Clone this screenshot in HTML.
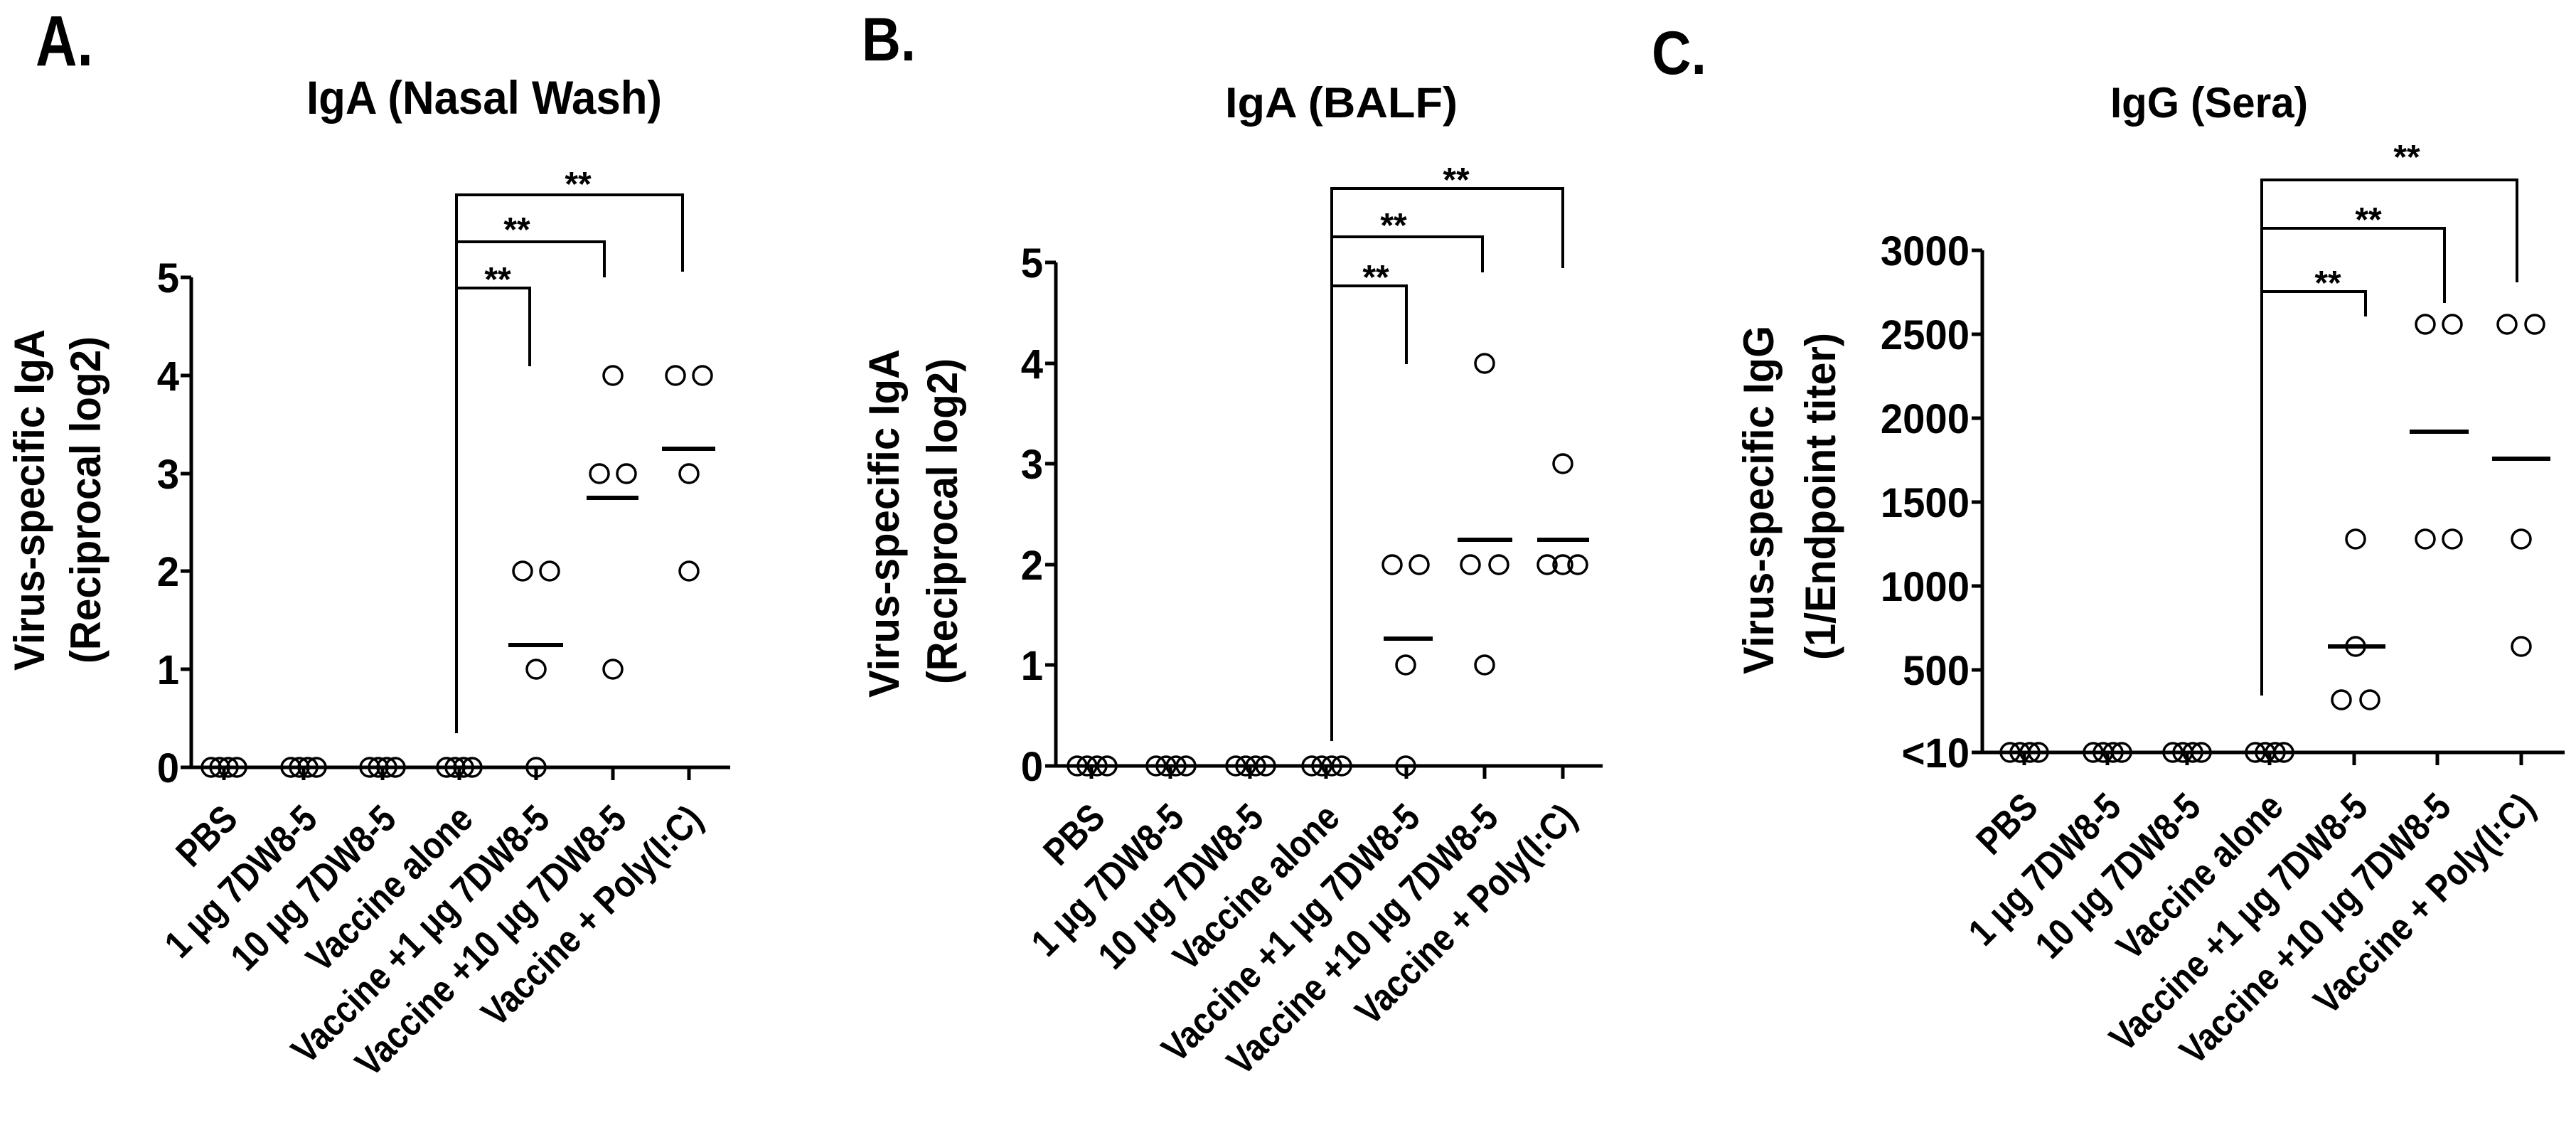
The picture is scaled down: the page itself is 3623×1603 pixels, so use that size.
<!DOCTYPE html>
<html><head><meta charset="utf-8"><style>
html,body{margin:0;padding:0;background:#fff;}
svg{display:block;}
text{font-family:"Liberation Sans",Arial,sans-serif;font-weight:bold;fill:#000;}
.xl{font-size:54px;}
.tk{font-size:58px;}
.st{font-size:48px;font-weight:normal;}
</style></head><body>
<svg width="3623" height="1603" viewBox="0 0 3623 1603" xmlns="http://www.w3.org/2000/svg">
<g stroke="#000" fill="none" stroke-linecap="butt">

<!-- ===== Panel A ===== -->
<path d="M269 390 V1079 H1027" stroke-width="5"/>
<path d="M254 390H269M254 528H269M254 666H269M254 803H269M254 941H269M254 1079H269" stroke-width="5"/>
<path d="M315 1079v18M427 1079v18M538 1079v18M646 1079v18M754 1079v18M862 1079v18M969 1079v18" stroke-width="5"/>
<path d="M642 1031V405H745V515M642 405V340H850V390M642 340V274H960V382" stroke-width="4"/>
<g stroke-width="3.5">
<circle cx="297" cy="1079" r="13"/><circle cx="309" cy="1079" r="13"/><circle cx="321" cy="1079" r="13"/><circle cx="333" cy="1079" r="13"/>
<circle cx="409" cy="1079" r="13"/><circle cx="421" cy="1079" r="13"/><circle cx="433" cy="1079" r="13"/><circle cx="445" cy="1079" r="13"/>
<circle cx="520" cy="1079" r="13"/><circle cx="532" cy="1079" r="13"/><circle cx="544" cy="1079" r="13"/><circle cx="556" cy="1079" r="13"/>
<circle cx="628" cy="1079" r="13"/><circle cx="640" cy="1079" r="13"/><circle cx="652" cy="1079" r="13"/><circle cx="664" cy="1079" r="13"/>
<circle cx="735" cy="803" r="13"/><circle cx="773" cy="803" r="13"/><circle cx="754" cy="941" r="13"/><circle cx="754" cy="1079" r="13"/>
<circle cx="862" cy="528" r="13"/><circle cx="843" cy="666" r="13"/><circle cx="881" cy="666" r="13"/><circle cx="862" cy="941" r="13"/>
<circle cx="950" cy="528" r="13"/><circle cx="988" cy="528" r="13"/><circle cx="969" cy="666" r="13"/><circle cx="969" cy="803" r="13"/>
</g>
<path d="M715 907H792M825 700H898M931 631H1006" stroke-width="6"/>

<!-- ===== Panel B ===== -->
<path d="M1485 369 V1077 H2254" stroke-width="5"/>
<path d="M1470 369H1485M1470 511H1485M1470 652H1485M1470 794H1485M1470 935H1485M1470 1077H1485" stroke-width="5"/>
<path d="M1535 1077v18M1646 1077v18M1758 1077v18M1865 1077v18M1978 1077v18M2088 1077v18M2198 1077v18" stroke-width="5"/>
<path d="M1873 1042V402H1978V512M1873 402V333H2085V383M1873 333V265H2198V377" stroke-width="4"/>
<g stroke-width="3.5">
<circle cx="1515" cy="1077" r="13"/><circle cx="1529" cy="1077" r="13"/><circle cx="1543" cy="1077" r="13"/><circle cx="1557" cy="1077" r="13"/>
<circle cx="1626" cy="1077" r="13"/><circle cx="1640" cy="1077" r="13"/><circle cx="1654" cy="1077" r="13"/><circle cx="1668" cy="1077" r="13"/>
<circle cx="1738" cy="1077" r="13"/><circle cx="1752" cy="1077" r="13"/><circle cx="1766" cy="1077" r="13"/><circle cx="1780" cy="1077" r="13"/>
<circle cx="1845" cy="1077" r="13"/><circle cx="1859" cy="1077" r="13"/><circle cx="1873" cy="1077" r="13"/><circle cx="1887" cy="1077" r="13"/>
<circle cx="1958" cy="794" r="13"/><circle cx="1996" cy="794" r="13"/><circle cx="1977" cy="935" r="13"/><circle cx="1977" cy="1077" r="13"/>
<circle cx="2088" cy="511" r="13"/><circle cx="2068" cy="794" r="13"/><circle cx="2108" cy="794" r="13"/><circle cx="2088" cy="935" r="13"/>
<circle cx="2198" cy="652" r="13"/><circle cx="2176" cy="794" r="13"/><circle cx="2198" cy="794" r="13"/><circle cx="2219" cy="794" r="13"/>
</g>
<path d="M1946 898H2015M2050 759H2127M2162 759H2235" stroke-width="6"/>

<!-- ===== Panel C ===== -->
<path d="M2788 352 V1058 H3607" stroke-width="5"/>
<path d="M2773 352H2788M2773 470H2788M2773 588H2788M2773 706H2788M2773 824H2788M2773 942H2788M2773 1058H2788" stroke-width="5"/>
<path d="M2847 1058v18M2964 1058v18M3076 1058v18M3192 1058v18M3311 1058v18M3428 1058v18M3546 1058v18" stroke-width="5"/>
<path d="M3181 978V410H3327V445M3181 410V321H3438V426M3181 321V253H3540V397" stroke-width="4"/>
<g stroke-width="3.5">
<circle cx="2827" cy="1058" r="13"/><circle cx="2841" cy="1058" r="13"/><circle cx="2855" cy="1058" r="13"/><circle cx="2867" cy="1058" r="13"/>
<circle cx="2944" cy="1058" r="13"/><circle cx="2958" cy="1058" r="13"/><circle cx="2972" cy="1058" r="13"/><circle cx="2984" cy="1058" r="13"/>
<circle cx="3056" cy="1058" r="13"/><circle cx="3070" cy="1058" r="13"/><circle cx="3084" cy="1058" r="13"/><circle cx="3096" cy="1058" r="13"/>
<circle cx="3172" cy="1058" r="13"/><circle cx="3186" cy="1058" r="13"/><circle cx="3200" cy="1058" r="13"/><circle cx="3212" cy="1058" r="13"/>
<circle cx="3313" cy="758" r="13"/><circle cx="3313" cy="909" r="13"/><circle cx="3293" cy="984" r="13"/><circle cx="3333" cy="984" r="13"/>
<circle cx="3411" cy="456" r="13"/><circle cx="3449" cy="456" r="13"/><circle cx="3411" cy="758" r="13"/><circle cx="3449" cy="758" r="13"/>
<circle cx="3526" cy="456" r="13"/><circle cx="3565" cy="456" r="13"/><circle cx="3546" cy="758" r="13"/><circle cx="3546" cy="909" r="13"/>
</g>
<path d="M3274 909H3355M3389 607H3472M3505 645H3587" stroke-width="6"/>
</g>

<!-- ===== Text ===== -->
<text x="50" y="92" font-size="100" textLength="81" lengthAdjust="spacingAndGlyphs">A.</text>
<text x="1212" y="85" font-size="86" textLength="76" lengthAdjust="spacingAndGlyphs">B.</text>
<text x="2323" y="104" font-size="86" textLength="77" lengthAdjust="spacingAndGlyphs">C.</text>

<text x="431" y="160" font-size="66" textLength="500" lengthAdjust="spacingAndGlyphs">IgA (Nasal Wash)</text>
<text x="1723" y="165" font-size="60" textLength="327" lengthAdjust="spacingAndGlyphs">IgA (BALF)</text>
<text x="2968" y="165" font-size="60" textLength="278" lengthAdjust="spacingAndGlyphs">IgG (Sera)</text>

<!-- stars -->
<g class="st" text-anchor="middle">
<text x="700" y="409">**</text><text x="727" y="339">**</text><text x="813" y="275">**</text>
<text x="1935" y="406">**</text><text x="1960" y="333">**</text><text x="2048" y="269">**</text>
<text x="3274" y="414">**</text><text x="3331" y="325">**</text><text x="3385" y="237">**</text>
</g>

<!-- y tick labels -->
<g class="tk" text-anchor="end">
<text transform="translate(252 411) scale(0.97 1)">5</text>
<text transform="translate(252 549) scale(0.97 1)">4</text>
<text transform="translate(252 687) scale(0.97 1)">3</text>
<text transform="translate(252 824) scale(0.97 1)">2</text>
<text transform="translate(252 962) scale(0.97 1)">1</text>
<text transform="translate(252 1100) scale(0.97 1)">0</text>

<text transform="translate(1467 390) scale(0.97 1)">5</text>
<text transform="translate(1467 532) scale(0.97 1)">4</text>
<text transform="translate(1467 673) scale(0.97 1)">3</text>
<text transform="translate(1467 815) scale(0.97 1)">2</text>
<text transform="translate(1467 956) scale(0.97 1)">1</text>
<text transform="translate(1467 1098) scale(0.97 1)">0</text>

<text transform="translate(2770 373) scale(0.97 1)">3000</text>
<text transform="translate(2770 491) scale(0.97 1)">2500</text>
<text transform="translate(2770 609) scale(0.97 1)">2000</text>
<text transform="translate(2770 727) scale(0.97 1)">1500</text>
<text transform="translate(2770 845) scale(0.97 1)">1000</text>
<text transform="translate(2770 963) scale(0.97 1)">500</text>
<text transform="translate(2770 1079) scale(0.97 1)">&lt;10</text>
</g>

<!-- y axis titles -->
<g font-size="60" text-anchor="middle">
<text transform="translate(62 703) rotate(-90)" textLength="480" lengthAdjust="spacingAndGlyphs">Virus-specific IgA</text>
<text transform="translate(141 703) rotate(-90)" textLength="460" lengthAdjust="spacingAndGlyphs">(Reciprocal log2)</text>
<text transform="translate(1264 736) rotate(-90)" textLength="490" lengthAdjust="spacingAndGlyphs">Virus-specific IgA</text>
<text transform="translate(1346 733) rotate(-90)" textLength="458" lengthAdjust="spacingAndGlyphs">(Reciprocal log2)</text>
<text transform="translate(2494 703) rotate(-90)" textLength="490" lengthAdjust="spacingAndGlyphs">Virus-specific IgG</text>
<text transform="translate(2581 698) rotate(-90)" textLength="460" lengthAdjust="spacingAndGlyphs">(1/Endpoint titer)</text>
</g>

<!-- x labels -->
<g class="xl" text-anchor="end">
<text transform="translate(337 1155) rotate(-45) scale(0.85 1)">PBS</text>
<text transform="translate(449 1155) rotate(-45) scale(0.85 1)">1 μg 7DW8-5</text>
<text transform="translate(560 1155) rotate(-45) scale(0.85 1)">10 μg 7DW8-5</text>
<text transform="translate(668 1155) rotate(-45) scale(0.85 1)">Vaccine alone</text>
<text transform="translate(776 1155) rotate(-45) scale(0.85 1)">Vaccine +1 μg 7DW8-5</text>
<text transform="translate(884 1155) rotate(-45) scale(0.85 1)">Vaccine +10 μg 7DW8-5</text>
<text transform="translate(991 1155) rotate(-45) scale(0.85 1)">Vaccine + Poly(I:C)</text>

<text transform="translate(1557 1153) rotate(-45) scale(0.85 1)">PBS</text>
<text transform="translate(1668 1153) rotate(-45) scale(0.85 1)">1 μg 7DW8-5</text>
<text transform="translate(1780 1153) rotate(-45) scale(0.85 1)">10 μg 7DW8-5</text>
<text transform="translate(1887 1153) rotate(-45) scale(0.85 1)">Vaccine alone</text>
<text transform="translate(2000 1153) rotate(-45) scale(0.85 1)">Vaccine +1 μg 7DW8-5</text>
<text transform="translate(2110 1153) rotate(-45) scale(0.85 1)">Vaccine +10 μg 7DW8-5</text>
<text transform="translate(2220 1153) rotate(-45) scale(0.85 1)">Vaccine + Poly(I:C)</text>

<text transform="translate(2869 1138) rotate(-45) scale(0.85 1)">PBS</text>
<text transform="translate(2986 1138) rotate(-45) scale(0.85 1)">1 μg 7DW8-5</text>
<text transform="translate(3098 1138) rotate(-45) scale(0.85 1)">10 μg 7DW8-5</text>
<text transform="translate(3214 1138) rotate(-45) scale(0.85 1)">Vaccine alone</text>
<text transform="translate(3333 1138) rotate(-45) scale(0.85 1)">Vaccine +1 μg 7DW8-5</text>
<text transform="translate(3450 1138) rotate(-45) scale(0.85 1)">Vaccine +10  μg 7DW8-5</text>
<text transform="translate(3568 1138) rotate(-45) scale(0.85 1)">Vaccine + Poly(I:C)</text>
</g>
</svg>
</body></html>
